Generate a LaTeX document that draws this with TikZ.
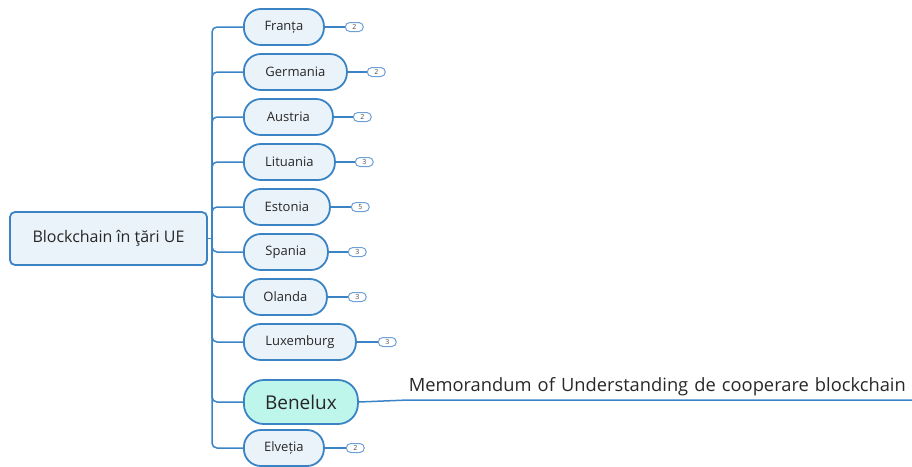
\documentclass[tikz,border=0pt]{standalone}
\usepackage{fontspec}
\setmainfont{Open Sans}
\usetikzlibrary{positioning}
\definecolor{MapBlue}{RGB}{58,132,198}
\definecolor{SoftBlue}{RGB}{234,242,250}
\definecolor{SoftTeal}{RGB}{190,246,236}
\definecolor{BadgeBlue}{RGB}{110,160,214}
\definecolor{InkGray}{RGB}{40,40,40}

\begin{document}
\begin{tikzpicture}[x=1pt, y=-1pt, line width=1.5pt,
  country/.style={draw=MapBlue, line width=1.8pt, fill=SoftBlue, rounded corners=17pt, minimum height=36pt, anchor=west, text=InkGray, font=\fontsize{13}{15}\selectfont},
  badge/.style={draw=BadgeBlue, line width=1pt, fill=white, rounded corners=4.5pt, minimum width=18pt, minimum height=9pt, inner sep=0pt, text=black!70, font=\fontsize{7}{7}\selectfont, right=#1},
  link/.style={draw=MapBlue, line width=1.5pt, rounded corners=5pt}]
\useasboundingbox (0,0) rectangle (912,466);

% central topic
\node[draw=MapBlue, line width=1.8pt, fill=SoftBlue, rounded corners=5pt, minimum width=197pt, minimum height=53pt, text=InkGray, font=\fontsize{16}{19}\selectfont] (root) at (108.5,238.5) {Blockchain în ţări UE};
\coordinate (trunk) at (212,238.5);

% countries
\node[country, minimum width=80pt] (franta) at (243,27) {Franța};
\node[country, minimum width=103pt] (germania) at (243,72) {Germania};
\node[country, minimum width=89pt] (austria) at (243,117) {Austria};
\node[country, minimum width=91pt] (lituania) at (243,162) {Lituania};
\node[country, minimum width=86pt] (estonia) at (243,207) {Estonia};
\node[country, minimum width=84pt] (spania) at (243,252) {Spania};
\node[country, minimum width=83pt] (olanda) at (243,297) {Olanda};
\node[country, minimum width=112pt] (luxemburg) at (243,342) {Luxemburg};
\node[country, minimum width=114pt, minimum height=44pt, rounded corners=20pt, fill=SoftTeal, text=black!85, font=\fontsize{19}{22}\selectfont] (benelux) at (243,402) {Benelux};
\node[country, minimum width=80pt] (elvetia) at (243,448) {Elveția};

% counters
\node[badge=20pt of franta] (bfranta) {2};
\node[badge=19pt of germania] (bgermania) {2};
\node[badge=19pt of austria] (baustria) {2};
\node[badge=19pt of lituania] (blituania) {3};
\node[badge=20pt of estonia] (bestonia) {5};
\node[badge=19pt of spania] (bspania) {3};
\node[badge=20pt of olanda] (bolanda) {3};
\node[badge=21pt of luxemburg] (bluxemburg) {3};
\node[badge=21pt of elvetia] (belvetia) {2};

% note
\node[anchor=south west, inner xsep=0pt, inner ysep=3pt, text width=504pt, align=left, text=InkGray, font=\fontsize{18.3}{21}\selectfont] (memo) at (408,400) {Memorandum of Understanding de cooperare blockchain};

\draw[link] (root.east) -- (trunk);
\draw[link] (trunk) |- (franta.west);
\draw[link] (trunk) |- (germania.west);
\draw[link] (trunk) |- (austria.west);
\draw[link] (trunk) |- (lituania.west);
\draw[link] (trunk) |- (estonia.west);
\draw[link] (trunk) |- (spania.west);
\draw[link] (trunk) |- (olanda.west);
\draw[link] (trunk) |- (luxemburg.west);
\draw[link] (trunk) |- (benelux.west);
\draw[link] (trunk) |- (elvetia.west);

\draw[link] (franta) -- (bfranta);
\draw[link] (germania) -- (bgermania);
\draw[link] (austria) -- (baustria);
\draw[link] (lituania) -- (blituania);
\draw[link] (estonia) -- (bestonia);
\draw[link] (spania) -- (bspania);
\draw[link] (olanda) -- (bolanda);
\draw[link] (luxemburg) -- (bluxemburg);
\draw[link] (elvetia) -- (belvetia);
\draw[link] (benelux.east) -- (memo.south west) -- (memo.south east);
\end{tikzpicture}
\end{document}
